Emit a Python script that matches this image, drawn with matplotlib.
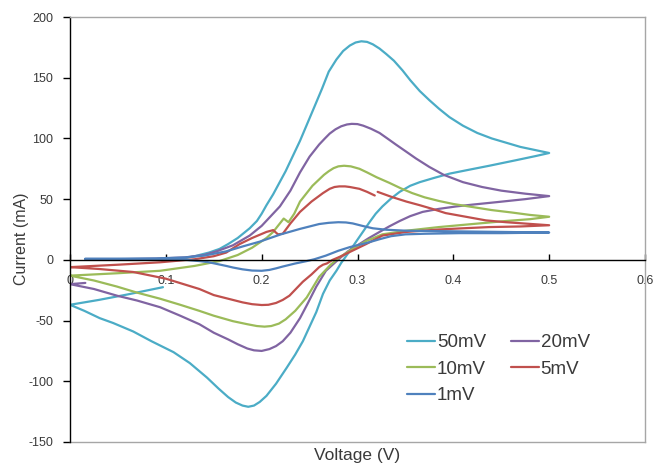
import numpy as np
import matplotlib
matplotlib.use("Agg")
import matplotlib.pyplot as plt

plt.rcParams['font.family'] = ['Liberation Sans', 'DejaVu Sans']

nan = np.nan

# ---- data (loop order: forward scan, then reverse scan) ----
V50 = [0.115, 0.13, 0.145, 0.156, 0.165, 0.175, 0.1875, 0.195, 0.20, 0.205, 0.212, 0.225, 0.24, 0.255,
       0.263, 0.27, 0.278, 0.285, 0.292, 0.298, 0.304, 0.31, 0.316, 0.323, 0.33, 0.338, 0.347,
       0.355, 0.365, 0.375, 0.385, 0.396, 0.41, 0.425, 0.44, 0.455, 0.47, 0.485, 0.50,
       0.486, 0.465, 0.4375, 0.415, 0.396, 0.38, 0.365, 0.355, 0.344, 0.335, 0.326, 0.319, 0.3125,
       0.306, 0.299, 0.293, 0.288, 0.283, 0.278, 0.271, 0.264, 0.257, 0.25, 0.243, 0.235, 0.226,
       0.215, 0.205, 0.198, 0.192, 0.186, 0.18, 0.173, 0.165, 0.155, 0.143, 0.125, 0.108, 0.085,
       0.066, 0.045, 0.031, 0.015, 0.0, 0.03, 0.06, 0.097]
I50 = [0.5, 3, 6, 9, 13, 18, 26, 32, 38, 45, 54, 73, 98, 126,
       141, 155, 165, 172, 176.5, 179, 180, 179.5, 177.5, 174, 169.5, 164, 156,
       148, 139, 131.5, 124.5, 117.5, 110.5, 104.5, 100, 96.5, 93, 90.5, 88,
       85.5, 82, 77.5, 74, 71, 67.5, 64, 61, 56, 50.5, 44, 38, 31,
       23.5, 15.5, 8.5, 3, -2.5, -9, -17, -28, -43, -55, -67, -78, -89,
       -102, -112, -117, -120, -121, -120, -117.5, -113, -106, -97, -85, -76, -67,
       -59, -52, -48, -42, -37, -33, -28.5, -22.5]

V20 = [0.05, 0.09, 0.12, 0.14, 0.153, 0.17, 0.1875, 0.20, 0.219, 0.23, 0.24, 0.25, 0.26, 0.266,
       0.271, 0.277, 0.283, 0.289, 0.294, 0.30, 0.306, 0.314, 0.323, 0.332, 0.34, 0.351, 0.361,
       0.375, 0.39, 0.41, 0.43, 0.45, 0.475, 0.5,
       0.475, 0.445, 0.42, 0.403, 0.385, 0.368, 0.355, 0.344, 0.333, 0.323, 0.312, 0.302, 0.29,
       0.281, 0.274, 0.267, 0.257, 0.248, 0.24, 0.23, 0.222, 0.215, 0.208, 0.20, 0.192, 0.185,
       0.175, 0.165, 0.15, 0.135, 0.115, 0.094, 0.07, 0.049, 0.025, 0.0, 0.016]
I20 = [0.5, 1, 2, 4, 7, 12, 20, 28, 44, 57, 72, 85, 95, 100,
       104, 107.5, 110, 111.5, 112, 111.8, 110.5, 108, 104.5, 99.5, 95, 89, 83.5,
       76.5, 70, 64, 60, 57, 54.5, 52.5,
       50, 47.5, 45.5, 44, 42, 39.5, 36, 32, 27.5, 23, 18, 13, 7,
       1, -4, -9, -22, -36, -48, -60, -67, -71, -73.5, -75, -74.5, -73,
       -69.5, -65.5, -60, -53, -46, -39, -33.5, -29.5, -24, -20, -19]

V10 = [0.0, 0.05, 0.094, 0.13, 0.156, 0.175, 0.19, 0.205, 0.212, 0.219, 0.223, 0.228, 0.234, 0.24,
       0.253, 0.265, 0.27, 0.275, 0.28, 0.286, 0.293, 0.302, 0.31, 0.32, 0.333, 0.345, 0.357,
       0.37, 0.385, 0.40, 0.42, 0.44, 0.461, 0.48, 0.5,
       0.48, 0.455, 0.42, 0.385, 0.351, 0.326, 0.309, 0.295, 0.281, 0.272, 0.26, 0.247, 0.235,
       0.225, 0.218, 0.21, 0.203, 0.195, 0.185, 0.17, 0.15, 0.135, 0.115, 0.094, 0.07, 0.049,
       0.025, 0.0]
I10 = [-13, -11, -9, -5, -1, 4, 10, 18, 23, 30, 34, 31, 38, 48,
       61, 70, 73, 75.5, 77, 77.5, 77, 75, 72, 68, 63.5, 59, 55,
       51.5, 48.5, 46, 43.5, 41, 39, 37, 35.5,
       33.5, 32, 29.5, 27, 24, 21, 15.5, 9, 2, -4, -14, -31, -42,
       -49, -52.5, -54.5, -55, -54.5, -53, -50.5, -46, -42, -37, -32, -27, -22,
       -17, -13]

V5 = [0.0, 0.05, 0.094, 0.13, 0.15, 0.163, 0.177, 0.19, 0.205, 0.212, 0.217, 0.222, 0.23, 0.24,
      0.252, 0.264, 0.271, 0.276, 0.281, 0.287, 0.292, 0.302, 0.31, 0.318, nan, 0.321, 0.335,
      0.351, 0.365, 0.378, 0.392, 0.413, 0.434, 0.455, 0.5,
      0.47, 0.4375, 0.41, 0.385, 0.351, 0.326, 0.309, 0.292, 0.283, 0.274, 0.268, 0.264, 0.26,
      0.252, 0.243, 0.229, 0.222, 0.215, 0.207, 0.20, 0.19, 0.18, 0.17, 0.15, 0.135, 0.1, 0.066,
      0.03, 0.0]
I5 = [-6, -4, -2, 0.5, 3, 6, 13, 18, 23, 24.5, 21, 21.5, 30, 39.5,
      48, 55, 58.5, 60, 60.5, 60.5, 60, 58.5, 56, 53, nan, 56, 52,
      48, 45, 42, 38.5, 35.5, 32.5, 31, 28.5,
      27.5, 27, 26, 25, 23, 20, 13, 6.5, 3, 0, -3, -4, -6,
      -12, -18, -29.5, -33, -35.5, -37, -37.2, -36.5, -35, -33, -29, -24, -15.5, -10,
      -7.5, -6]

V1 = [0.016, 0.05, 0.09, 0.12, 0.14, 0.163, 0.18, 0.198, 0.22, 0.24, 0.26, 0.27, 0.28, 0.288,
      0.295, 0.305, 0.316, 0.33, 0.351, 0.40, 0.45, 0.5,
      0.45, 0.407, 0.37, 0.35, 0.335, 0.323, 0.31, 0.292, 0.28, 0.267, 0.255, 0.247, 0.235,
      0.222, 0.215, 0.208, 0.20, 0.19, 0.18, 0.17, 0.163, 0.145, 0.135, 0.12, 0.08, 0.04, 0.016]
I1 = [1, 1, 1.2, 2, 3.5, 7, 11, 15, 21, 25.5, 29.5, 30.5, 31, 30.8,
      30, 28, 26, 24.8, 24, 23.5, 23, 22.5,
      22, 22, 21.5, 21, 19.5, 17, 14, 10.5, 7.5, 3.5, 0.5, -1, -3,
      -5.5, -7, -8.3, -9, -8.8, -7.8, -6.3, -5, -2, -1, 0, 0.5, 0.5, 0.5]

series_labels = ["50mV", "20mV", "10mV", "5mV", "1mV"]
series_colors = ["#4BACC6", "#8064A2", "#9BBB59", "#C0504D", "#4F81BD"]
series_data = [(V50, I50), (V20, I20), (V10, I10), (V5, I5), (V1, I1)]

x_ticks = [0, 0.1, 0.2, 0.3, 0.4, 0.5, 0.6]
x_ticklabels = ["0", "0.1", "0.2", "0.3", "0.4", "0.5", "0.6"]
y_ticks = [-150, -100, -50, 0, 50, 100, 150, 200]
y_ticklabels = ["-150", "-100", "-50", "0", "50", "100", "150", "200"]

# ---- figure ----
fig = plt.figure(figsize=(6.59, 4.63), dpi=100)
ax = fig.add_axes([70/659, 21/463, 575/659, 425/463])

handles = []
for (vx, iy), lab, col in zip(series_data, series_labels, series_colors):
    h, = ax.plot(vx, iy, color=col, lw=1.6, label=lab, solid_joinstyle='round', solid_capstyle='round')
    handles.append(h)

ax.set_xlim(0, 0.6)
ax.set_ylim(-150, 200)
ax.set_xticks(x_ticks)
ax.set_xticklabels(x_ticklabels)
ax.set_yticks(y_ticks)
ax.set_yticklabels(y_ticklabels)

label_color = "#3a3a3a"
ax.spines['left'].set_color('black')
ax.spines['left'].set_linewidth(1.0)
ax.spines['bottom'].set_position(('data', 0))
ax.spines['bottom'].set_color('black')
ax.spines['bottom'].set_linewidth(1.0)
for s in ['top', 'right']:
    ax.spines[s].set_color('#A6A6A6')
    ax.spines[s].set_linewidth(1.0)
ax.plot([0, 1], [0, 0], transform=ax.transAxes, color='#A6A6A6', lw=1.0, clip_on=False)

ax.tick_params(axis='x', direction='in', length=4, width=1, pad=11, labelsize=9, colors='black',
               labelcolor=label_color)
ax.tick_params(axis='y', direction='out', length=5, width=1, pad=7, labelsize=9, colors='black',
               labelcolor=label_color)

fig.text(22/659, 1 - 239/463, "Current (mA)", rotation=90, ha='center', va='center',
         fontsize=11.5, color=label_color)
fig.text(357/659, 1 - 460/463, "Voltage (V)", ha='center', va='baseline', fontsize=12.5,
         color=label_color)

# legend filled row-wise: 50mV 20mV / 10mV 5mV / 1mV
order = [0, 2, 4, 1, 3]
leg = ax.legend([handles[i] for i in order], [series_labels[i] for i in order],
                ncol=2, loc='upper left', bbox_to_anchor=((407-70)/575, (442-334)/425),
                frameon=False, fontsize=13.5, handlelength=1.5, handletextpad=0.1,
                columnspacing=1.3, labelspacing=0.5, borderpad=0, borderaxespad=0)
for t in leg.get_texts():
    t.set_color(label_color)

fig.savefig("out.png", dpi=100, facecolor='white')
